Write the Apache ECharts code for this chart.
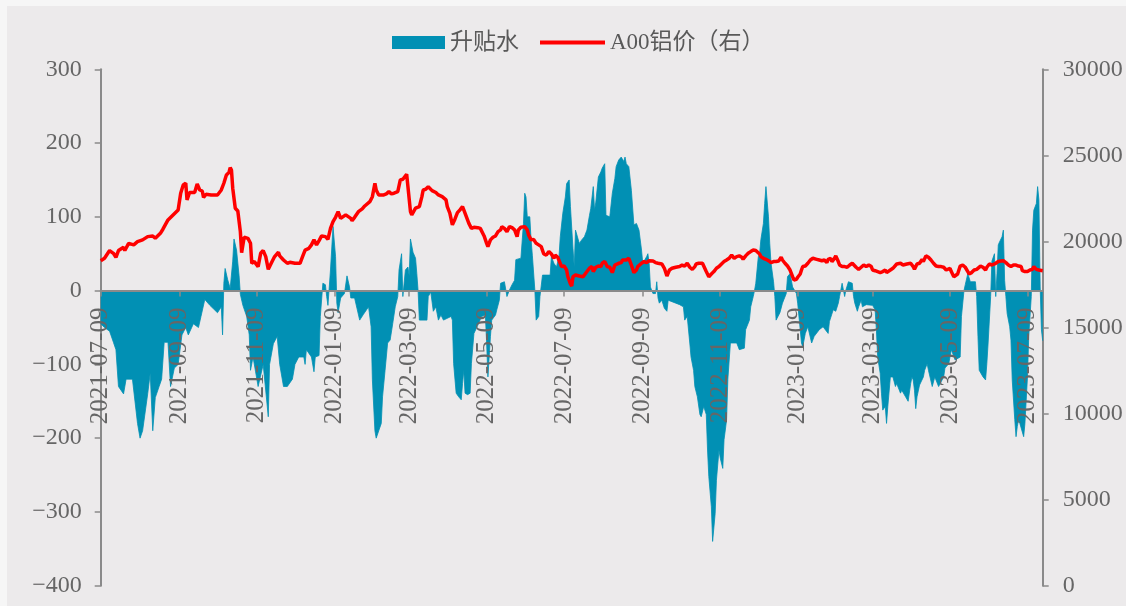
<!DOCTYPE html>
<html><head><meta charset="utf-8">
<script src="https://cdn.jsdelivr.net/npm/echarts@6/dist/echarts.min.js"></script>
<style>
html,body{margin:0;padding:0;background:#f6f6f6;width:1126px;height:606px;overflow:hidden}
#c{position:absolute;left:7px;top:6px;width:1119px;height:600px;background:#ECEAEB}
</style></head><body><div id="c"></div>
<script>
const startDate = '2021-07-09';
const endDate = '2023-07-21';
const tickLabels = ['2021-07-09','2021-09-09','2021-11-09','2022-01-09','2022-03-09','2022-05-09','2022-07-09','2022-09-09','2022-11-09','2023-01-09','2023-03-09','2023-05-09','2023-07-09'];
const leftTicks = { min: -400, max: 300, interval: 100 };
const rightTicks = { min: 0, max: 30000, interval: 5000 };
const seriesNames = ['升贴水', 'A00铝价（右）'];

const spreadDates = [
'2021-07-09','2021-07-12','2021-07-16','2021-07-19','2021-07-21','2021-07-23','2021-07-27','2021-07-29','2021-08-03','2021-08-07','2021-08-09','2021-08-11','2021-08-15','2021-08-17','2021-08-19','2021-08-21','2021-08-24','2021-08-26','2021-08-28','2021-08-31',
'2021-09-02','2021-09-05','2021-09-08','2021-09-11','2021-09-14','2021-09-16','2021-09-20','2021-09-24','2021-09-26','2021-09-29','2021-10-03','2021-10-06','2021-10-09','2021-10-12','2021-10-13','2021-10-14','2021-10-15','2021-10-17','2021-10-19','2021-10-21',
'2021-10-22','2021-10-24','2021-10-26','2021-10-27','2021-10-29','2021-11-01','2021-11-03','2021-11-04','2021-11-06','2021-11-08','2021-11-10','2021-11-14','2021-11-18','2021-11-19','2021-11-22','2021-11-25','2021-11-27','2021-11-30','2021-12-03','2021-12-07',
'2021-12-09','2021-12-12','2021-12-16','2021-12-17','2021-12-18','2021-12-22','2021-12-24','2021-12-25','2021-12-28','2021-12-29','2021-12-31','2022-01-02','2022-01-03','2022-01-04','2022-01-06','2022-01-08','2022-01-10','2022-01-11','2022-01-12','2022-01-14',
'2022-01-17','2022-01-19','2022-01-21','2022-01-22','2022-01-25','2022-01-29','2022-02-01','2022-02-05','2022-02-07','2022-02-08','2022-02-10','2022-02-11','2022-02-13','2022-02-15','2022-02-16','2022-02-18','2022-02-20','2022-02-22','2022-02-24','2022-02-26',
'2022-02-28','2022-03-01','2022-03-03','2022-03-04','2022-03-05','2022-03-06','2022-03-08','2022-03-09','2022-03-10','2022-03-12','2022-03-14','2022-03-15','2022-03-16','2022-03-17','2022-03-23','2022-03-24','2022-03-26','2022-03-28','2022-03-30','2022-04-01',
'2022-04-03','2022-04-05','2022-04-11','2022-04-12','2022-04-13','2022-04-15','2022-04-17','2022-04-19','2022-04-20','2022-04-21','2022-04-22','2022-04-24','2022-04-26','2022-04-27','2022-04-29','2022-05-02','2022-05-05','2022-05-08','2022-05-09','2022-05-10',
'2022-05-11','2022-05-12','2022-05-13','2022-05-16','2022-05-17','2022-05-19','2022-05-20','2022-05-23','2022-05-24','2022-05-25','2022-05-27','2022-05-29','2022-05-31','2022-06-01','2022-06-05','2022-06-07','2022-06-08','2022-06-09','2022-06-10','2022-06-12',
'2022-06-13','2022-06-14','2022-06-16','2022-06-17','2022-06-19','2022-06-20','2022-06-22','2022-06-28','2022-06-29','2022-07-01','2022-07-03','2022-07-05','2022-07-06','2022-07-08','2022-07-10','2022-07-11','2022-07-13','2022-07-14','2022-07-16','2022-07-17',
'2022-07-18','2022-07-21','2022-07-23','2022-07-25','2022-07-27','2022-07-29','2022-07-30','2022-08-01','2022-08-02','2022-08-03','2022-08-05','2022-08-07','2022-08-08','2022-08-10','2022-08-11','2022-08-14','2022-08-16','2022-08-18','2022-08-19','2022-08-21',
'2022-08-23','2022-08-25','2022-08-26','2022-08-27','2022-08-29','2022-08-31','2022-09-02','2022-09-04','2022-09-06','2022-09-08','2022-09-09','2022-09-12','2022-09-13','2022-09-14','2022-09-15','2022-09-17','2022-09-19','2022-09-20','2022-09-21','2022-09-22',
'2022-09-24','2022-09-26','2022-09-28','2022-09-29','2022-10-02','2022-10-05','2022-10-08','2022-10-11','2022-10-12','2022-10-14','2022-10-16','2022-10-17','2022-10-19','2022-10-20','2022-10-22','2022-10-24','2022-10-25','2022-10-27','2022-10-29','2022-10-30',
'2022-10-31','2022-11-02','2022-11-03','2022-11-05','2022-11-06','2022-11-08','2022-11-09','2022-11-11','2022-11-12','2022-11-13','2022-11-14','2022-11-15','2022-11-17','2022-11-22','2022-11-24','2022-11-28','2022-11-29','2022-12-02','2022-12-03','2022-12-05',
'2022-12-06','2022-12-07','2022-12-09','2022-12-10','2022-12-11','2022-12-13','2022-12-14','2022-12-15','2022-12-17','2022-12-18','2022-12-19','2022-12-21','2022-12-22','2022-12-23','2022-12-26','2022-12-28','2022-12-31','2023-01-01','2023-01-03','2023-01-05',
'2023-01-08','2023-01-09','2023-01-11','2023-01-12','2023-01-13','2023-01-15','2023-01-17','2023-01-20','2023-01-22','2023-01-26','2023-01-29','2023-02-02','2023-02-03','2023-02-06','2023-02-08','2023-02-10','2023-02-11','2023-02-13','2023-02-14','2023-02-15',
'2023-02-16','2023-02-18','2023-02-21','2023-02-22','2023-02-23','2023-02-25','2023-02-26','2023-02-28','2023-03-01','2023-03-04','2023-03-09','2023-03-11','2023-03-12','2023-03-13','2023-03-15','2023-03-16','2023-03-17','2023-03-19','2023-03-20','2023-03-21',
'2023-03-23','2023-03-25','2023-03-27','2023-03-28','2023-03-31','2023-04-01','2023-04-04','2023-04-06','2023-04-08','2023-04-09','2023-04-10','2023-04-11','2023-04-12','2023-04-13','2023-04-15','2023-04-18','2023-04-19','2023-04-21','2023-04-22','2023-04-25',
'2023-04-27','2023-04-30','2023-05-01','2023-05-04','2023-05-05','2023-05-08','2023-05-10','2023-05-13','2023-05-17','2023-05-18','2023-05-20','2023-05-21','2023-05-23','2023-05-25','2023-05-29','2023-05-30','2023-05-31','2023-06-01','2023-06-04','2023-06-06',
'2023-06-07','2023-06-08','2023-06-10','2023-06-11','2023-06-13','2023-06-14','2023-06-15','2023-06-16','2023-06-17','2023-06-19','2023-06-20','2023-06-21','2023-06-22','2023-06-23','2023-06-25','2023-06-26','2023-06-27','2023-06-29','2023-06-30','2023-07-01',
'2023-07-02','2023-07-03','2023-07-04','2023-07-06','2023-07-07','2023-07-09','2023-07-10','2023-07-12','2023-07-13','2023-07-14','2023-07-16','2023-07-17','2023-07-18','2023-07-19','2023-07-20','2023-07-21'
];
const spreadValues = [
-45,-50,-55,-70,-80,-130,-140,-120,-120,-180,-200,-190,-140,-112,-190,-145,-130,-120,-70,-70,
-130,-105,-100,-60,-50,-60,-45,-50,-35,-12,-20,-25,-30,-22,-60,10,30,15,3,40,
70,55,20,-5,-20,-35,-60,-108,-90,-110,-130,-100,-171,-100,-72,-62,-100,-130,-130,-120,
-100,-90,-90,-100,-80,-90,-110,-90,-88,-35,10,8,-8,-20,28,87,46,-17,-30,-10,
-4,20,5,-10,-10,-40,-32,-22,-49,-121,-190,-200,-190,-180,-144,-108,-71,-67,-45,-22,
-8,28,50,-8,-10,28,32,20,70,52,44,23,0,-40,-40,-8,-2,-28,-22,-40,
-33,-40,-35,-40,-99,-139,-144,-148,-126,-108,-139,-141,-139,-99,-58,-47,-35,-33,-71,-117,
-119,-62,-40,-33,-26,-13,10,12,10,-8,1,8,14,42,44,91,132,127,100,100,
69,48,0,-40,-35,-8,21,21,46,37,32,46,73,105,127,145,150,114,57,32,
82,64,69,73,82,102,111,141,109,120,154,161,166,172,102,100,132,152,168,177,
181,175,181,172,168,136,89,91,82,55,37,46,50,37,5,-4,-4,12,-10,-17,
-13,-24,-28,-13,-15,-17,-19,-22,-40,-35,-71,-90,-108,-130,-144,-168,-171,-157,-168,-216,
-252,-293,-340,-302,-257,-216,-227,-241,-202,-189,-175,-120,-71,-71,-80,-78,-53,-40,-22,-8,
0,10,46,50,69,91,118,141,100,64,37,12,-8,-40,-30,-17,-4,19,23,5,
-4,-17,-53,-71,-76,-58,-49,-71,-62,-53,-49,-58,-42,-26,-28,-17,-8,10,12,-8,
1,12,10,-8,-17,-28,-22,-13,-22,-19,-20,-26,-53,-90,-112,-139,-162,-157,-180,-157,
-117,-117,-130,-126,-139,-135,-144,-150,-126,-117,-121,-135,-160,-144,-128,-117,-108,-99,-108,-130,
-117,-130,-130,-117,-105,-99,-80,-94,-90,-35,0,8,23,12,12,-8,-62,-108,-117,-121,
-99,-71,-8,40,50,-8,23,62,66,73,82,14,-8,-31,-49,-67,-121,-175,-198,-184,
-175,-180,-178,-198,-180,-117,-62,-8,82,109,118,141,123,5,-53,-68
];

const priceDates = [
'2021-07-09','2021-07-12','2021-07-16','2021-07-19','2021-07-21','2021-07-23','2021-07-27','2021-07-28','2021-07-31','2021-08-04','2021-08-07','2021-08-11','2021-08-15','2021-08-19','2021-08-21','2021-08-25','2021-08-27','2021-08-31','2021-09-04','2021-09-08',
'2021-09-10','2021-09-12','2021-09-14','2021-09-15','2021-09-17','2021-09-21','2021-09-23','2021-09-25','2021-09-27','2021-09-28','2021-09-30','2021-10-04','2021-10-09','2021-10-12','2021-10-14','2021-10-16','2021-10-18','2021-10-19','2021-10-20','2021-10-21',
'2021-10-23','2021-10-25','2021-10-27','2021-10-28','2021-10-30','2021-11-02','2021-11-04','2021-11-05','2021-11-07','2021-11-10','2021-11-12','2021-11-14','2021-11-16','2021-11-18','2021-11-21','2021-11-23','2021-11-26','2021-11-27','2021-11-30','2021-12-03',
'2021-12-05','2021-12-09','2021-12-13','2021-12-15','2021-12-17','2021-12-20','2021-12-22','2021-12-24','2021-12-26','2021-12-28','2021-12-30','2022-01-02','2022-01-04','2022-01-06','2022-01-08','2022-01-10','2022-01-12','2022-01-14','2022-01-15','2022-01-18',
'2022-01-19','2022-01-22','2022-01-23','2022-01-25','2022-01-28','2022-01-31','2022-02-02','2022-02-06','2022-02-08','2022-02-10','2022-02-11','2022-02-13','2022-02-17','2022-02-19','2022-02-21','2022-02-23','2022-02-25','2022-02-26','2022-02-28','2022-03-02',
'2022-03-04','2022-03-07','2022-03-08','2022-03-10','2022-03-11','2022-03-14','2022-03-15','2022-03-17','2022-03-19','2022-03-20','2022-03-22','2022-03-24','2022-03-27','2022-03-28','2022-03-30','2022-04-01','2022-04-04','2022-04-07','2022-04-08','2022-04-10',
'2022-04-12','2022-04-14','2022-04-16','2022-04-18','2022-04-20','2022-04-21','2022-04-23','2022-04-25','2022-04-27','2022-04-29','2022-05-02','2022-05-04','2022-05-07','2022-05-09','2022-05-10','2022-05-12','2022-05-14','2022-05-16','2022-05-18','2022-05-20',
'2022-05-21','2022-05-23','2022-05-25','2022-05-27','2022-05-29','2022-05-31','2022-06-02','2022-06-03','2022-06-05','2022-06-08','2022-06-10','2022-06-11','2022-06-13','2022-06-15','2022-06-17','2022-06-19','2022-06-21','2022-06-23','2022-06-25','2022-06-27',
'2022-06-29','2022-07-01','2022-07-02','2022-07-04','2022-07-07','2022-07-09','2022-07-11','2022-07-12','2022-07-14','2022-07-15','2022-07-16','2022-07-18','2022-07-21','2022-07-24','2022-07-26','2022-07-27','2022-07-29','2022-07-31','2022-08-01','2022-08-03',
'2022-08-05','2022-08-07','2022-08-08','2022-08-10','2022-08-12','2022-08-14','2022-08-16','2022-08-18','2022-08-19','2022-08-21','2022-08-23','2022-08-24','2022-08-27','2022-08-29','2022-08-30','2022-08-31','2022-09-02','2022-09-04','2022-09-05','2022-09-06',
'2022-09-08','2022-09-10','2022-09-12','2022-09-14','2022-09-15','2022-09-17','2022-09-19','2022-09-21','2022-09-22','2022-09-24','2022-09-26','2022-09-28','2022-09-30','2022-10-02','2022-10-05','2022-10-08','2022-10-10','2022-10-12','2022-10-14','2022-10-16',
'2022-10-18','2022-10-20','2022-10-21','2022-10-23','2022-10-26','2022-10-27','2022-10-29','2022-10-31','2022-11-02','2022-11-04','2022-11-06','2022-11-08','2022-11-10','2022-11-12','2022-11-14','2022-11-16','2022-11-18','2022-11-20','2022-11-22','2022-11-24',
'2022-11-26','2022-11-27','2022-11-29','2022-12-01','2022-12-03','2022-12-05','2022-12-06','2022-12-07','2022-12-10','2022-12-11','2022-12-13','2022-12-15','2022-12-17','2022-12-19','2022-12-21','2022-12-23','2022-12-25','2022-12-27','2022-12-28','2022-12-30',
'2023-01-01','2023-01-02','2023-01-03','2023-01-05','2023-01-06','2023-01-08','2023-01-09','2023-01-11','2023-01-12','2023-01-13','2023-01-15','2023-01-17','2023-01-19','2023-01-21','2023-01-22','2023-01-24','2023-01-26','2023-01-28','2023-01-30','2023-02-01',
'2023-02-02','2023-02-04','2023-02-05','2023-02-07','2023-02-08','2023-02-10','2023-02-11','2023-02-13','2023-02-15','2023-02-17','2023-02-19','2023-02-21','2023-02-22','2023-02-24','2023-02-26','2023-02-28','2023-03-02','2023-03-04','2023-03-06','2023-03-08',
'2023-03-09','2023-03-11','2023-03-12','2023-03-15','2023-03-17','2023-03-19','2023-03-20','2023-03-23','2023-03-25','2023-03-28','2023-03-31','2023-04-02','2023-04-05','2023-04-08','2023-04-10','2023-04-11','2023-04-13','2023-04-15','2023-04-17','2023-04-18',
'2023-04-20','2023-04-22','2023-04-24','2023-04-26','2023-04-28','2023-04-30','2023-05-02','2023-05-04','2023-05-06','2023-05-09','2023-05-10','2023-05-12','2023-05-13','2023-05-15','2023-05-17','2023-05-19','2023-05-21','2023-05-23','2023-05-24','2023-05-26',
'2023-05-28','2023-05-30','2023-05-31','2023-06-02','2023-06-04','2023-06-06','2023-06-07','2023-06-09','2023-06-11','2023-06-12','2023-06-14','2023-06-16','2023-06-18','2023-06-20','2023-06-22','2023-06-24','2023-06-26','2023-06-28','2023-06-30','2023-07-02',
'2023-07-04','2023-07-05','2023-07-07','2023-07-09','2023-07-11','2023-07-13','2023-07-14','2023-07-16','2023-07-18','2023-07-19','2023-07-21'
];
const priceValues = [
18880,19020,19470,19310,19080,19470,19660,19470,19890,19800,19990,20090,20280,20320,20180,20470,20710,21250,21540,21830,
22800,23280,23380,22410,22840,22840,23340,22990,22930,22550,22740,22700,22700,22990,23380,23860,24000,24290,24150,23090,
21930,21770,20570,19350,20240,20180,19890,18730,18830,18540,19310,19470,19120,18380,18830,19120,19370,19160,18920,18730,
18790,18730,18730,19120,19500,19600,19800,20090,19800,20050,20320,20280,20120,20760,21150,21400,21730,21340,21250,21540,
21640,21340,21210,21400,21730,21890,22060,22310,22600,23380,22990,22700,22700,22760,22890,22760,22800,22700,22890,23570,
23610,23900,23180,21730,21540,21930,21830,22020,22600,22990,23030,23180,22950,23030,22840,22700,22600,22410,22020,21640,
20960,21290,21670,21830,22020,21830,21440,21050,20760,20820,20800,20760,20320,19890,19700,20090,20240,20320,20570,20670,
20860,20760,20570,20860,20800,20670,20280,20670,20820,20860,20670,20380,20090,20120,19890,19800,19700,19270,19210,19410,
19270,19020,19210,19080,18540,18570,18340,17950,17530,17410,17950,18050,17990,17950,18150,18050,18440,18540,18250,18500,
18570,18540,18730,18830,18540,18500,18190,18630,18540,18730,18770,18920,18920,19020,18920,18630,18190,18340,18540,18570,
18730,18830,18770,18880,18920,18860,18770,18730,18630,18690,18440,17990,18340,18440,18500,18540,18630,18570,18730,18500,
18380,18540,18690,18730,18730,18630,18250,17950,18110,18250,18440,18540,18690,18830,18920,19020,19210,19020,19120,19160,
19080,18960,19160,19310,19410,19500,19600,19470,19270,19120,19020,18960,18880,18770,18830,18830,18860,19080,18920,18730,
18570,18500,18340,17950,17760,17800,17920,18110,18340,18540,18570,18730,18920,19020,18980,18960,18920,18880,18920,18770,
18960,19020,18830,19020,19160,18830,18630,18540,18540,18500,18630,18730,18630,18500,18380,18500,18630,18540,18630,18540,
18340,18300,18250,18190,18250,18340,18190,18340,18440,18690,18730,18630,18690,18730,18540,18380,18690,18730,18960,18830,
19160,19080,18920,18730,18570,18540,18540,18500,18340,18440,18250,17950,18050,18110,18570,18630,18500,18250,18110,18190,
18340,18380,18300,18570,18500,18340,18500,18690,18630,18540,18730,18830,18860,18880,18770,18630,18540,18630,18630,18570,
18540,18300,18250,18250,18340,18380,18540,18380,18340,18300,18300
];

// axis scaffolding: one category per calendar day
function dayList(a, b) {
  const out = [];
  let t = Date.parse(a + 'T00:00:00Z');
  const e = Date.parse(b + 'T00:00:00Z');
  while (t <= e) { out.push(new Date(t).toISOString().slice(0, 10)); t += 86400000; }
  return out;
}
const categories = dayList(startDate, endDate);
const tickSet = new Set(tickLabels);
const showTick = (idx, val) => tickSet.has(val);

const FONT = "'Liberation Serif','Noto Sans CJK SC',serif";
const TXT = '#666666';
const AX = '#8a8a8a';
const TEAL = '#0190B4';
const RED = '#FF0000';
const minus = v => String(v).replace('-', '\u2212');

// layout of the plot area inside the chart box
const G = { left: 93.7, right: 83.3, top: 63.3, bottom: 20.3 };
const boxH = 600;
const plotH = boxH - G.top - G.bottom;
const zeroFrac = (leftTicks.max - 0) / (leftTicks.max - leftTicks.min);

const chart = echarts.init(document.getElementById('c'), null, { renderer: 'canvas' });
chart.setOption({
  animation: false,
  backgroundColor: '#ECEAEB',
  textStyle: { fontFamily: FONT },
  legend: [
    { left: 380, top: 20, data: [{ name: seriesNames[0], icon: 'rect' }], itemWidth: 53, itemHeight: 13,
      textStyle: { fontSize: 23, color: '#595959', fontFamily: FONT } },
    { left: 528, top: 20, data: [{ name: seriesNames[1], icon: 'rect' }], itemWidth: 65, itemHeight: 4,
      textStyle: { fontSize: 23, color: '#595959', fontFamily: FONT } }
  ],
  grid: [
    { left: G.left, right: G.right, top: G.top, bottom: G.bottom, containLabel: false, outerBoundsMode: 'none' },
    // band whose bottom edge sits on the zero line of the left axis: carries the date axis
    { left: G.left, right: G.right, top: G.top, height: plotH * zeroFrac, containLabel: false, outerBoundsMode: 'none' }
  ],
  xAxis: [
    { type: 'category', gridIndex: 0, data: categories, boundaryGap: false, show: false },
    { type: 'category', gridIndex: 1, data: categories, boundaryGap: false, position: 'bottom', z: 5,
      axisLine: { show: true, onZero: false, lineStyle: { color: AX, width: 2 } },
      axisTick: { show: true, interval: showTick, length: 6, lineStyle: { color: AX, width: 1.5 } },
      axisLabel: { interval: showTick, rotate: 90, margin: 17, fontSize: 25, color: TXT, fontFamily: FONT },
      splitLine: { show: false } }
  ],
  yAxis: [
    { type: 'value', gridIndex: 0, min: leftTicks.min, max: leftTicks.max, interval: leftTicks.interval, position: 'left',
      axisLine: { show: true, lineStyle: { color: AX, width: 2 } },
      axisTick: { show: true, length: 6, lineStyle: { color: AX, width: 1.5 } },
      axisLabel: { margin: 19, fontSize: 24, color: TXT, fontFamily: FONT, formatter: minus },
      splitLine: { show: false } },
    { type: 'value', gridIndex: 0, min: rightTicks.min, max: rightTicks.max, interval: rightTicks.interval, position: 'right',
      axisLine: { show: true, lineStyle: { color: AX, width: 2 } },
      axisTick: { show: true, length: 6, lineStyle: { color: AX, width: 1.5 } },
      axisLabel: { margin: 20, fontSize: 24, color: TXT, fontFamily: FONT, formatter: v => String(v) },
      splitLine: { show: false } },
    { type: 'value', gridIndex: 1, min: 0, max: 1, show: false }
  ],
  series: [
    { name: seriesNames[0], type: 'line', xAxisIndex: 0, yAxisIndex: 0, symbol: 'none', sampling: 'none', z: 2,
      color: TEAL, lineStyle: { width: 0.8, color: TEAL }, areaStyle: { color: TEAL, opacity: 1 },
      data: spreadDates.map((d, i) => [d, spreadValues[i]]) },
    { name: seriesNames[1], type: 'line', xAxisIndex: 0, yAxisIndex: 1, symbol: 'none', sampling: 'none', z: 3,
      color: RED, lineStyle: { width: 3.5, color: RED },
      data: priceDates.map((d, i) => [d, priceValues[i]]) }
  ]
});
</script></body></html>
